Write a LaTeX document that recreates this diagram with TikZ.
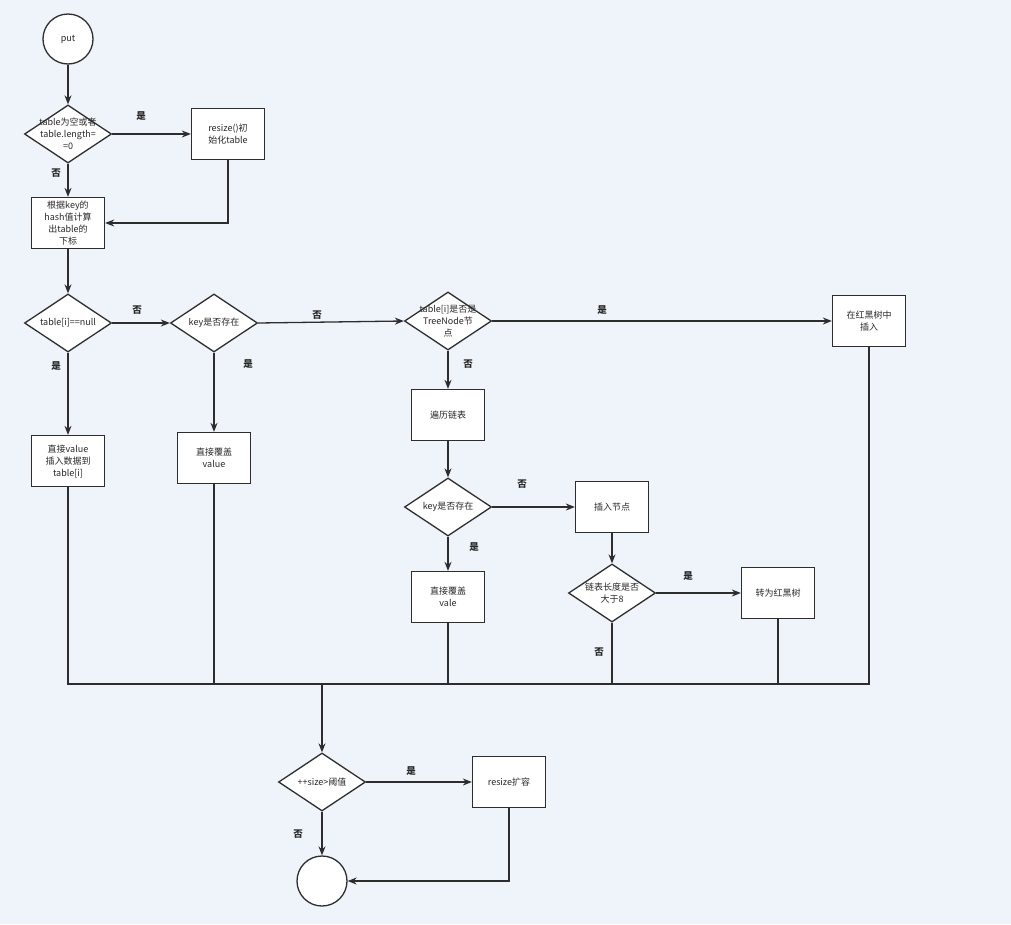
\documentclass[tikz,border=0pt]{standalone}
\usepackage{fontspec}
\setmainfont{Noto Sans CJK SC}
\usetikzlibrary{shapes.geometric,arrows.meta}
\definecolor{bgc}{RGB}{239,244,251}
\definecolor{ln}{RGB}{45,45,45}
\definecolor{tx}{RGB}{40,40,40}
\tikzset{
  base/.style={draw=ln, line width=1.3pt, fill=white, text=tx, font=\fontsize{9}{12}\selectfont, align=center},
  box/.style={base, rectangle, minimum width=73pt, minimum height=51pt, inner sep=1pt},
  dia/.style={base, diamond, minimum width=87pt, minimum height=58pt, inner sep=0pt},
  circ/.style={base, circle, minimum size=50pt, inner sep=0pt},
  dtxt/.style={text=tx, font=\fontsize{9}{12}\selectfont, align=center, inner sep=0pt},
  conn/.style={draw=ln, line width=1.3pt},
  arr/.style={conn, -{Stealth[length=9pt,width=7pt]}},
  lbl/.style={text=tx, font=\fontsize{9.5}{11}\selectfont\bfseries, inner sep=0pt}
}
\begin{document}
\begin{tikzpicture}[x=1pt,y=-1pt]
\useasboundingbox[fill=bgc] (0,0) rectangle (1011,924);
% nodes
\node[circ] (put) at (68,39) {put};
\node[dia, label={[dtxt]center:table为空或者\\table.length=\\=0}] (d1) at (68,134) {};
\node[box] (init) at (228,134) {resize()初\\始化table};
\node[box] (hash) at (68,223) {根据key的\\hash值计算\\出table的\\下标};
\node[dia, label={[dtxt]center:table[i]==null}] (d2) at (68,323) {};
\node[dia, label={[dtxt]center:key是否存在}] (d3) at (214,323) {};
\node[dia, label={[dtxt]center:table[i]是否是\\TreeNode节\\点}] (d4) at (448,321) {};
\node[box] (rbt) at (869,321) {在红黑树中\\插入};
\node[box] (direct) at (68,461) {直接value\\插入数据到\\table[i]};
\node[box] (cover1) at (214,458) {直接覆盖\\value};
\node[box] (trav) at (448,415) {遍历链表};
\node[dia, label={[dtxt]center:key是否存在}] (d5) at (448,507) {};
\node[box] (ins) at (612,507) {插入节点};
\node[box] (cover2) at (448,597) {直接覆盖\\vale};
\node[dia, label={[dtxt]center:链表长度是否\\大于8}] (d6) at (612,593) {};
\node[box] (torb) at (778,593) {转为红黑树};
\node[dia, label={[dtxt]center:++size>阈值}] (d7) at (322,782) {};
\node[box] (grow) at (509,782) {resize扩容};
\node[circ] (end) at (322,881) {};
\coordinate (mrg) at (68,684);
\coordinate (join) at (322,684);
% connectors
\draw[arr] (put) -- (d1);
\draw[arr] (d1) -- (init);
\draw[arr] (d1) -- (hash);
\draw[arr] (init.south) |- (hash.east);
\draw[arr] (hash) -- (d2);
\draw[arr] (d2) -- (d3);
\draw[arr] (d2) -- (direct);
\draw[arr] (d3) -- (cover1);
\draw[arr] (d3.east) -- (d4.west);
\draw[arr] (d4) -- (rbt);
\draw[arr] (d4) -- (trav);
\draw[arr] (trav) -- (d5);
\draw[arr] (d5) -- (ins);
\draw[arr] (d5) -- (cover2);
\draw[arr] (ins) -- (d6);
\draw[arr] (d6) -- (torb);
% merge
\draw[conn] (direct.south) -- (direct.south |- mrg) -- (rbt.south |- mrg) -- (rbt.south);
\draw[conn] (cover1.south) -- (cover1.south |- mrg);
\draw[conn] (cover2.south) -- (cover2.south |- mrg);
\draw[conn] (d6.south) -- (d6.south |- mrg);
\draw[conn] (torb.south) -- (torb.south |- mrg);
\draw[arr] (join) -- (d7);
\draw[arr] (d7) -- (grow);
\draw[arr] (d7) -- (end);
\draw[arr] (grow.south) |- (end.east);
% labels
\node[lbl] (l1) at (141,116) {是};
\node[lbl] (l2) at (56,173) {否};
\node[lbl] (l3) at (137,310) {否};
\node[lbl] (l4) at (56,366) {是};
\node[lbl] (l5) at (248,364) {是};
\node[lbl] (l6) at (317,315) {否};
\node[lbl] (l7) at (602,310) {是};
\node[lbl] (l8) at (468,364) {否};
\node[lbl] (l9) at (522,484) {否};
\node[lbl] (l10) at (474,547) {是};
\node[lbl] (l11) at (688,576) {是};
\node[lbl] (l12) at (599,652) {否};
\node[lbl] (l13) at (411,771) {是};
\node[lbl] (l14) at (298,834) {否};
\end{tikzpicture}
\end{document}
